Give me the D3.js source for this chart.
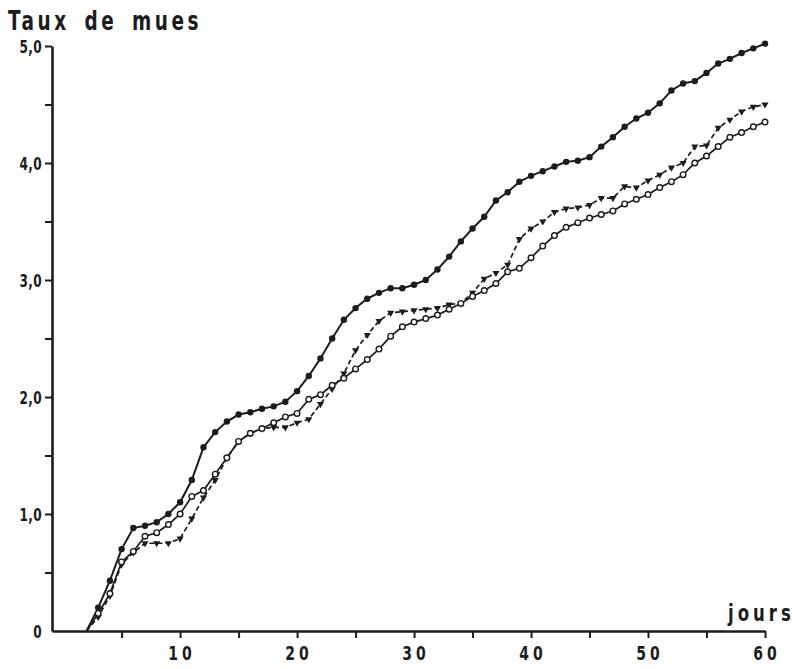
<!DOCTYPE html>
<html lang="fr">
<head>
    <meta charset="utf-8">
    <title>Taux de mues</title>
    <script src="https://d3js.org/d3.v7.min.js"></script>
    <style>
        body { margin: 0; background: #fff; }
        text { font-family: "Liberation Sans Narrow", "DejaVu Sans Condensed", sans-serif; font-weight: bold; fill: #1c1c1c; }
    </style>
</head>
<body>

<script>
    // jours 2..60
    const days = d3.range(2, 61);

    const filled = [0, 0.20, 0.43, 0.70, 0.88, 0.90, 0.93, 1.00, 1.10, 1.29,
        1.57, 1.70, 1.79, 1.85, 1.87, 1.90, 1.92, 1.96, 2.05, 2.18,
        2.33, 2.50, 2.66, 2.76, 2.84, 2.89, 2.93, 2.93, 2.96, 3.00,
        3.09, 3.20, 3.33, 3.44, 3.54, 3.68, 3.75, 3.84, 3.89, 3.93,
        3.97, 4.01, 4.02, 4.05, 4.14, 4.22, 4.31, 4.38, 4.43, 4.51,
        4.62, 4.68, 4.70, 4.77, 4.85, 4.89, 4.94, 4.98, 5.02];

    const open = [0, 0.15, 0.32, 0.59, 0.68, 0.81, 0.84, 0.91, 1.00, 1.15,
        1.20, 1.34, 1.48, 1.62, 1.69, 1.73, 1.78, 1.83, 1.86, 1.98,
        2.02, 2.10, 2.16, 2.24, 2.32, 2.41, 2.52, 2.60, 2.64, 2.67,
        2.70, 2.75, 2.80, 2.86, 2.91, 2.97, 3.07, 3.10, 3.19, 3.29,
        3.38, 3.45, 3.49, 3.53, 3.56, 3.59, 3.65, 3.69, 3.73, 3.79,
        3.84, 3.90, 4.00, 4.06, 4.14, 4.22, 4.26, 4.31, 4.35];

    const triangle = [0, 0.12, 0.30, 0.57, 0.67, 0.75, 0.75, 0.75, 0.79, 0.96,
        1.14, 1.29, 1.48, 1.62, 1.69, 1.73, 1.74, 1.74, 1.78, 1.81,
        1.94, 2.07, 2.20, 2.40, 2.53, 2.65, 2.72, 2.73, 2.74, 2.75,
        2.76, 2.79, 2.80, 2.89, 3.01, 3.06, 3.13, 3.35, 3.44, 3.50,
        3.58, 3.61, 3.62, 3.64, 3.70, 3.70, 3.80, 3.79, 3.85, 3.90,
        3.96, 4.00, 4.14, 4.15, 4.30, 4.37, 4.44, 4.48, 4.50];

    const xTicks = d3.range(5, 61, 5);
    const xLabels = [10, 20, 30, 40, 50, 60];
    const yTicks = d3.range(0.5, 5.01, 0.5);
    const yLabels = [0, 1, 2, 3, 4, 5];

    const width = 801, height = 669;
    const svg = d3.select("body").append("svg")
            .attr("width", width).attr("height", height);

    const x = d3.scaleLinear().domain([-0.95, 60]).range([52, 765]);
    const y = d3.scaleLinear().domain([0, 5]).range([631, 46]);

    const ink = "#1c1c1c";

    // axes
    const xAxis = svg.append("g")
            .attr("transform", "translate(0," + y(0) + ")")
            .call(d3.axisBottom(x).tickValues(xTicks).tickSize(7).tickSizeOuter(0).tickFormat(""));
    xAxis.select(".domain").attr("stroke", ink).attr("stroke-width", 2.6);
    xAxis.selectAll(".tick line").attr("stroke", ink).attr("stroke-width", 2);

    const yAxis = svg.append("g")
            .attr("transform", "translate(" + x.range()[0] + ",0)")
            .call(d3.axisLeft(y).tickValues(yTicks).tickSize(7).tickSizeOuter(0).tickFormat(""));
    yAxis.select(".domain").attr("stroke", ink).attr("stroke-width", 2.6);
    yAxis.selectAll(".tick line").attr("stroke", ink).attr("stroke-width", 2);

    // labels are squeezed horizontally to look like the condensed face
    svg.append("g").selectAll("text")
            .data(xLabels).enter()
            .append("text")
            .attr("transform", d => "translate(" + (x(d) + 2) + ",660) scale(0.82,1)")
            .attr("text-anchor", "middle")
            .style("font-size", "19px")
            .style("letter-spacing", "5px")
            .text(d => d);

    svg.append("g").selectAll("text")
            .data(yLabels).enter()
            .append("text")
            .attr("transform", d => "translate(42," + (y(d) + 7) + ") scale(0.75,1)")
            .attr("text-anchor", "end")
            .style("font-size", "18px")
            .style("letter-spacing", "0.5px")
            .text(d => d === 0 ? "0" : d3.format(".1f")(d).replace(".", ","));

    svg.append("text")
            .attr("transform", "translate(8,30) scale(0.79,1)")
            .style("font-size", "26px")
            .style("letter-spacing", "4.5px")
            .style("word-spacing", "6px")
            .text("Taux de mues");

    svg.append("text")
            .attr("transform", "translate(728,621) scale(0.8,1)")
            .style("font-size", "23px")
            .style("letter-spacing", "5px")
            .text("jours");

    // series
    const line = d3.line()
            .x((d, i) => x(days[i]))
            .y(d => y(d));

    svg.append("path").datum(triangle)
            .attr("d", line)
            .attr("fill", "none").attr("stroke", ink)
            .attr("stroke-width", 1.7).attr("stroke-dasharray", "5,3");

    svg.append("path").datum(open)
            .attr("d", line)
            .attr("fill", "none").attr("stroke", ink).attr("stroke-width", 1.7);

    svg.append("path").datum(filled)
            .attr("d", line)
            .attr("fill", "none").attr("stroke", ink).attr("stroke-width", 2);

    const tri = d3.symbol().type(d3.symbolTriangle).size(22);
    svg.append("g").selectAll("path")
            .data(triangle.slice(1)).enter()
            .append("path")
            .attr("d", tri)
            .attr("transform", (d, i) => "translate(" + x(days[i + 1]) + "," + y(d) + ") rotate(180)")
            .attr("fill", ink);

    svg.append("g").selectAll("circle")
            .data(open.slice(1)).enter()
            .append("circle")
            .attr("cx", (d, i) => x(days[i + 1]))
            .attr("cy", d => y(d))
            .attr("r", 2.8)
            .attr("fill", "#fff").attr("stroke", ink).attr("stroke-width", 1.4);

    svg.append("g").selectAll("circle")
            .data(filled.slice(1)).enter()
            .append("circle")
            .attr("cx", (d, i) => x(days[i + 1]))
            .attr("cy", d => y(d))
            .attr("r", 3.2)
            .attr("fill", ink);
</script>

</body>
</html>
